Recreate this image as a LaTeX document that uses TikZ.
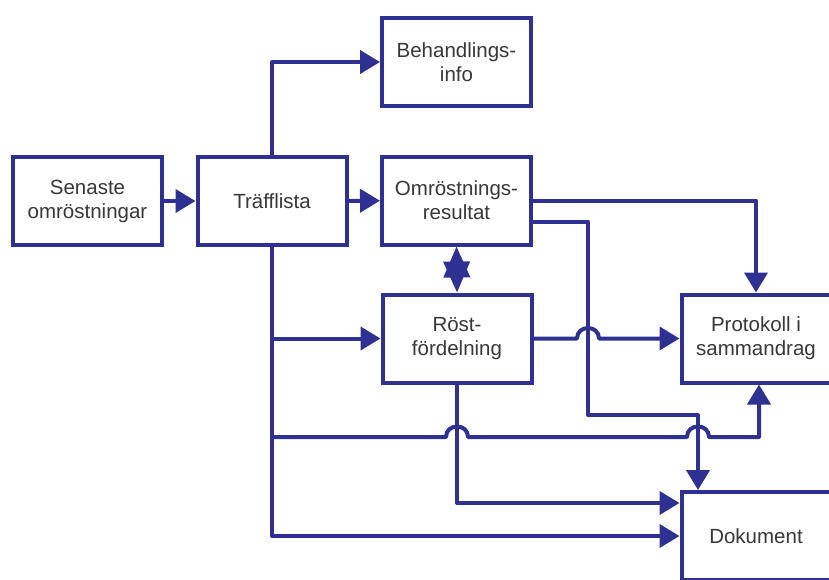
\documentclass[tikz,border=0pt]{standalone}
\usepackage{fontspec}
\setmainfont{Liberation Sans}
\usetikzlibrary{arrows.meta,calc}
\definecolor{lineblue}{RGB}{46,49,146}
\definecolor{txtgray}{RGB}{56,56,56}
\begin{document}
\begin{tikzpicture}[x=1pt,y=-1pt,
  box/.style={draw=lineblue,line width=4pt,fill=white,minimum width=149pt,minimum height=88pt,
    align=center,text=txtgray,font=\fontsize{20.5}{24}\selectfont,inner sep=0pt},
  conn/.style={draw=lineblue,line width=4pt,line join=round},
  arr/.style={conn,-{Triangle[length=20pt,width=23pt]}},
  dbl/.style={conn,{Triangle[length=31pt,width=26pt]}-{Triangle[length=31pt,width=26pt]}}]
\useasboundingbox (0,0) rectangle (829,579);
\clip (0,0) rectangle (829,579);
% boxes
\node[box] (sen) at (87.5,201) {Senaste\\omröstningar};
\node[box] (tr) at (272,201) {Träfflista};
\node[box] (beh) at (456.5,62) {Behandlings-\\info};
\node[box] (om) at (456.5,200.5) {Omröstnings-\\resultat};
\node[box] (rost) at (457,338.5) {Röst-\\fördelning};
\node[box] (prot) at (756,338.5) {Protokoll i\\sammandrag};
\node[box] (dok) at (756,536) {Dokument};
% connectors
\draw[arr] (sen) -- (tr);
\draw[arr] (tr) -- (om);
\draw[arr] (tr.north) |- (beh.west);
\draw[arr] (tr.south) |- (dok.west);
\draw[arr] (tr.south |- rost.west) -- (rost.west);
\draw[dbl] (om.south) -- (rost.north);
% Omröstningsresultat -> Protokoll
\draw[arr] (om.east) -| (prot.north);
% Omröstningsresultat -> Dokument
\coordinate (c1) at (588,415);
\coordinate (c2) at (698,415);
\draw[arr] ([yshift=-21pt]om.east) -| (c1) -- (c2) -- (c2 |- dok.north);
% Röstfördelning -> Protokoll (hop at x=588)
\draw[arr] (rost.east) -- (577,338.5) .. controls (577,324.5) and (599,324.5) .. (599,338.5) -- (prot.west);
% Röstfördelning -> Dokument
\draw[arr] (rost.south) |- ([yshift=33pt]dok.west);
% Träfflista -> Protokoll (hops at 457 and 698)
\coordinate (c3) at (759,437);
\draw[arr] (tr.south |- c3) -- (446,437) .. controls (446,423) and (468,423) .. (468,437)
  -- (687,437) .. controls (687,423) and (709,423) .. (709,437)
  -- (c3) -- (c3 |- prot.south);
\end{tikzpicture}
\end{document}
